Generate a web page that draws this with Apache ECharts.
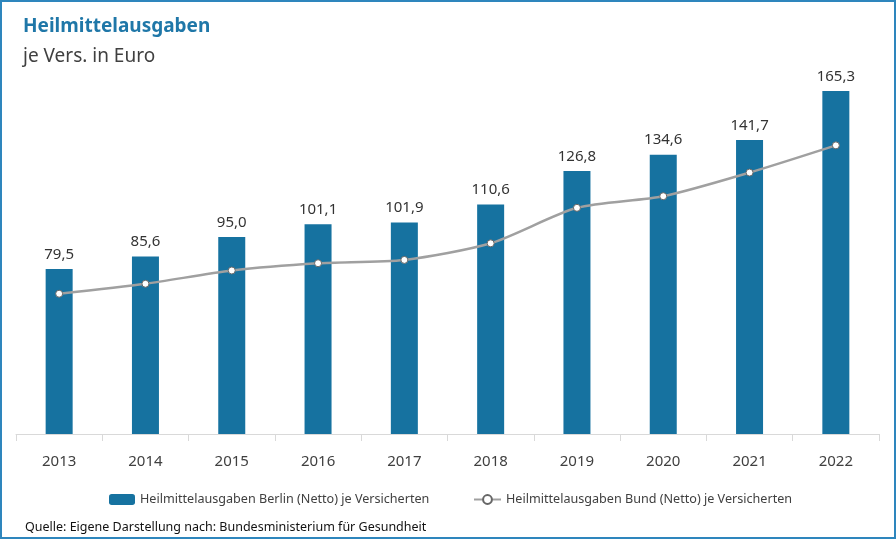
<!DOCTYPE html>
<html>
<head>
<meta charset="utf-8">
<script src="https://cdn.jsdelivr.net/npm/echarts@6/dist/echarts.min.js"></script>
<style>
html,body{margin:0;padding:0;background:#fff;}
#c{width:896px;height:539px;box-sizing:border-box;border:2px solid #2e86bd;}
</style>
</head>
<body>
<div id="c"></div>
<script>
const categories = ['2013','2014','2015','2016','2017','2018','2019','2020','2021','2022'];
const berlin = [79.5, 85.6, 95.0, 101.1, 101.9, 110.6, 126.8, 134.6, 141.7, 165.3];
const bund = [67.6, 72.4, 78.8, 82.3, 83.9, 91.9, 109.0, 114.6, 126.0, 139.1];
const nameBerlin = 'Heilmittelausgaben Berlin (Netto) je Versicherten';
const nameBund = 'Heilmittelausgaben Bund (Netto) je Versicherten';

const chart = echarts.init(document.getElementById('c'));
const font = '"Noto Sans", "Open Sans", sans-serif';
chart.setOption({
  animation: false,
  textStyle: { fontFamily: font },
  title: [
    { text: 'Heilmittelausgaben', left: 16, top: 10,
      textStyle: { fontSize: 19, fontWeight: 'bold', color: '#1f77a8', fontFamily: font } },
    { text: 'je Vers. in Euro', left: 16, top: 40,
      textStyle: { fontSize: 19, fontWeight: 'normal', color: '#404040', fontFamily: font } },
    { text: 'Quelle: Eigene Darstellung nach: Bundesministerium für Gesundheit', left: 18, top: 514,
      textStyle: { fontSize: 12.5, fontWeight: 'normal', color: '#111', fontFamily: font } }
  ],
  legend: [
    { data: [nameBerlin], left: 102, top: 486, itemWidth: 26, itemHeight: 11, itemGap: 3,
      textStyle: { fontSize: 12.6, color: '#404040', fontFamily: font } },
    { data: [nameBund], left: 466, top: 486, itemWidth: 27, itemHeight: 11, itemGap: 3,
      textStyle: { fontSize: 12.6, color: '#404040', fontFamily: font } }
  ],
  grid: { left: 14, right: 15, top: 17, bottom: 103, containLabel: false },
  xAxis: {
    type: 'category', data: categories,
    axisLine: { lineStyle: { color: '#d9d9d9', width: 1 } },
    axisTick: { show: true, inside: false, length: 7, lineStyle: { color: '#d9d9d9' } },
    axisLabel: { fontSize: 15, color: '#404040', margin: 20, fontFamily: font }
  },
  yAxis: { type: 'value', min: 0, max: 200, show: false, splitLine: { show: false } },
  series: [
    { name: nameBerlin, type: 'bar', data: berlin, barWidth: 27,
      itemStyle: { color: '#1672a0' },
      label: { show: true, position: 'top', distance: 7, fontSize: 15, color: '#333', fontFamily: font,
        formatter: p => p.value.toFixed(1).replace('.', ',') } },
    { name: nameBund, type: 'line', data: bund, smooth: 0.25,
      symbol: 'circle', symbolSize: 7,
      lineStyle: { color: '#a0a0a0', width: 2.5 },
      itemStyle: { color: '#fff', borderColor: '#666', borderWidth: 1 } }
  ]
});
</script>
</body>
</html>
